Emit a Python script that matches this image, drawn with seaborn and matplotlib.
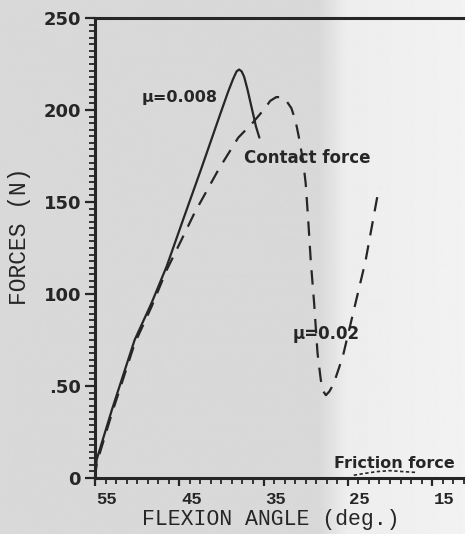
import numpy as np
import pandas as pd
import matplotlib
matplotlib.use("Agg")
import matplotlib.pyplot as plt
import matplotlib.transforms as mtransforms
from matplotlib.ticker import AutoMinorLocator
import seaborn as sns

# ---- data ----
angle_mu0008 = [55, 54.8, 53, 50.3, 48.3, 46.5, 44.5, 42.4, 40.2, 39.2, 38.6, 38.2, 37.9,
                37.6, 37.3, 36.9, 36.4, 35.9, 35.5]
force_mu0008 = [0, 10, 37, 75, 95, 115, 141, 168, 197, 210, 217, 221, 222,
                221, 218, 211, 201, 191, 185]

angle_mu002 = [55, 54.8, 53, 50.3, 48.3, 46.5, 45, 43.2, 40.3, 38.0, 36.3, 35.0, 34.2, 33.5,
               32.9, 32.3, 31.7, 31.2, 30.8, 30.3, 30.0, 29.7, 29.4, 29.0, 28.6, 28.2, 27.9,
               27.6, 27.2, 26.7, 25.6, 24.3, 22.9, 21.3]
force_mu002 = [0, 8, 35, 73, 93, 113, 127, 144, 168, 185, 193, 200, 205, 207,
               207, 205, 201, 194, 185, 172, 160, 140, 118, 95, 68, 53, 47,
               45, 47, 51, 66, 91, 118, 158]

angle_friction = [24.3, 23, 21.5, 20, 18.5, 16.8]
force_friction = [1.5, 2.5, 3.5, 4, 3.5, 3]

x_ticks = [55, 45, 35, 25, 15]
y_ticks = [0, 50, 100, 150, 200, 250]
y_ticklabels = ["0", ".50", "100", "150", "200", "250"]

ink = "#262626"

sns.set_theme(style="white")
plt.rcParams["font.family"] = ["DejaVu Sans"]

fig = plt.figure(figsize=(4.65, 5.34), dpi=100)
fig.patch.set_facecolor("#d8d8d8")

# scanned-paper background: darker left, lighter right
bg = fig.add_axes([0, 0, 1, 1], zorder=-10)
W = 465
xs = np.arange(W)
vals = np.where(xs < 318, 0.85, np.where(xs < 345, 0.85 + (xs - 318) / 27 * 0.08, 0.93 + (xs - 345) / 120 * 0.02))
bg.imshow(vals[None, :], cmap="gray", vmin=0, vmax=1, aspect="auto", extent=[0, 1, 0, 1])
bg.axis("off")

ax = fig.add_axes([95 / 465, 56 / 534, 370 / 465, 460 / 534], zorder=1)
ax.set_facecolor("none")

d1 = pd.DataFrame({"angle": angle_mu0008, "force": force_mu0008})
d2 = pd.DataFrame({"angle": angle_mu002, "force": force_mu002})
d3 = pd.DataFrame({"angle": angle_friction, "force": force_friction})

sns.lineplot(data=d1, x="angle", y="force", ax=ax, sort=False, color=ink, lw=1.6)
sns.lineplot(data=d2, x="angle", y="force", ax=ax, sort=False, color=ink, lw=1.6,
             linestyle=(0, (6.5, 4.5)))
sns.lineplot(data=d3, x="angle", y="force", ax=ax, sort=False, color=ink, lw=1.2,
             linestyle=(0, (2, 1.5)))

ax.set_xlim(55, 11.1)
ax.set_ylim(0, 250)

ax.set_xticks(x_ticks)
ax.set_xticklabels([str(v) for v in x_ticks])
ax.set_yticks(y_ticks)
ax.set_yticklabels(y_ticklabels)
ax.xaxis.set_minor_locator(AutoMinorLocator(8))
ax.yaxis.set_minor_locator(AutoMinorLocator(14))

ax.tick_params(axis="x", which="major", direction="out", length=6, width=1.6, color=ink,
               labelsize=12, labelcolor=ink, pad=4, bottom=True)
ax.tick_params(axis="x", which="minor", direction="out", length=4, width=1.3, color=ink, bottom=True)
ax.tick_params(axis="y", which="major", direction="out", length=7, width=1.6, color=ink,
               labelsize=13, labelcolor=ink, pad=3, left=True)
ax.tick_params(axis="y", which="minor", direction="out", length=4, width=1.3, color=ink, left=True)

for lab in ax.get_xticklabels():
    lab.set_fontfamily("Liberation Mono")
    lab.set_fontweight("bold")
    lab.set_fontsize(12.5)
    lab.set_transform(lab.get_transform() + mtransforms.ScaledTranslation(12 / 100, 0, fig.dpi_scale_trans))
for lab in ax.get_yticklabels():
    lab.set_fontweight("bold")

for side in ["left", "bottom", "top"]:
    ax.spines[side].set_visible(True)
    ax.spines[side].set_color(ink)
    ax.spines[side].set_linewidth(2.2)
ax.spines["right"].set_visible(False)

ax.set_xlabel("FLEXION ANGLE (deg.)", fontfamily="Liberation Mono", fontsize=15.5, color=ink)
ax.xaxis.set_label_coords(0.476, -0.068)
ax.set_ylabel("FORCES (N)", fontfamily="Liberation Mono", fontsize=16.5, color=ink)
ax.yaxis.set_label_coords(-0.172, 0.526)

ax.text(49.5, 207, "μ=0.008", fontsize=11.5, fontweight="bold", color=ink, ha="left", va="center")
ax.text(37.3, 174, "Contact force", fontsize=12, fontweight="bold", color=ink, ha="left", va="center")
ax.text(31.5, 78, "μ=0.02", fontsize=12, fontweight="bold", color=ink, ha="left", va="center")
ax.text(26.7, 8, "Friction force", fontsize=11.5, fontweight="bold", color=ink, ha="left", va="center")

fig.savefig("out.png", dpi=100, facecolor=fig.get_facecolor())
